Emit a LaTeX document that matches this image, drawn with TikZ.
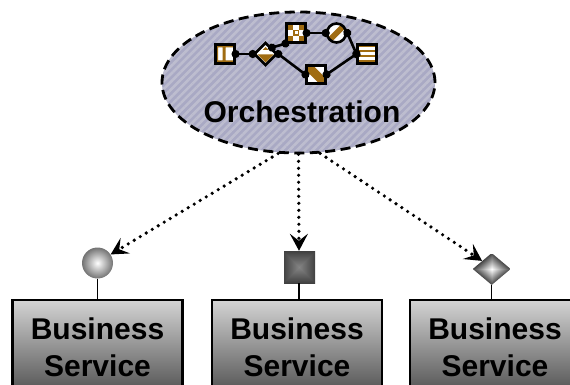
\documentclass[tikz,border=0pt]{standalone}
\usepackage{fontspec}
\setmainfont{Liberation Sans}
\usetikzlibrary{arrows.meta,shapes.geometric,patterns.meta,positioning}

\definecolor{hatchlo}{HTML}{A9A9C4}
\definecolor{hatchhi}{HTML}{BDBDCF}
\definecolor{taskbrown}{HTML}{A06C12}

\pgfdeclarefunctionalshading{squaregrey}{\pgfpoint{-25bp}{-25bp}}{\pgfpoint{25bp}{25bp}}{}{
  abs exch abs 2 copy lt {exch} if pop 25 div 0.27 mul 0.52 exch sub dup dup }
\pgfdeclarefunctionalshading{diamondgrey}{\pgfpoint{-25bp}{-25bp}}{\pgfpoint{25bp}{25bp}}{}{
  abs exch abs add 25 div 0.72 mul 1 exch sub dup 0 lt {pop 0} if dup dup }

\tikzset{
  task/.style={draw=black,line width=2.6pt,fill=white,rectangle,inner sep=0pt,minimum size=18.5pt},
  gate/.style={draw=black,line width=2.6pt,fill=white,diamond,inner sep=0pt,minimum width=23pt,minimum height=23pt},
  event/.style={draw=black,line width=2.6pt,fill=white,circle,inner sep=0pt,minimum size=19pt},
  flow/.style={line width=2.6pt,{Circle[length=8pt]}-{Circle[length=8pt]},shorten <=-4pt,shorten >=-4pt},
  call/.style={line width=3.6pt,line cap=round,dash pattern=on 0pt off 7pt,-{Stealth[length=17pt,width=18pt,inset=7pt]}},
  stem/.style={line width=1.5pt},
  busbox/.style={draw=black,line width=2.6pt,rectangle,top color=black!17,bottom color=black!68,
    minimum width=170pt,minimum height=94pt,align=center,inner sep=0pt,
    font=\bfseries\fontsize{30}{37}\selectfont},
  centred/.style={shift={(path picture bounding box.center)}}
}

\begin{document}
\begin{tikzpicture}[x=1pt,y=-1pt]
    \useasboundingbox (0,0) rectangle (570,385);
    \clip (0,0) rectangle (570,385);

    \node[ellipse,draw=black,line width=2.8pt,dash pattern=on 10pt off 5.5pt,minimum width=273pt,minimum height=141pt,
      inner sep=0pt,preaction={fill=hatchlo},pattern={Lines[angle=45,distance=5.5pt,line width=2.6pt]},pattern color=hatchhi]
      (orch) at (298.5,82.5) {};
    \node[font=\bfseries\fontsize{30}{32}\selectfont] (orchlabel) at (302,111.5) {Orchestration};

    % process inside the ellipse
    \node[task,path picture={\begin{scope}[centred]
        \fill[taskbrown] (-10,-10) rectangle (-7,10) (-2.5,-10) rectangle (0.5,10)
          (-10,-10) rectangle (10,-6.5) (-10,6.5) rectangle (10,10);
      \end{scope}}] (task1) at (225,54) {};
    \node[gate,path picture={\begin{scope}[centred]
        \fill[taskbrown] (-8,0.5) -- (8,0.5) -- (0,8.5) -- cycle (-3,-4) -- (3,-4) -- (0,-7) -- cycle;
      \end{scope}}] (gate1) at (265.5,54) {};
    \node[task,path picture={\begin{scope}[centred]
        \foreach \col in {0,1,2} \foreach \row in {0,1,2} {
          \pgfmathparse{int(mod(\col+\row,2))}
          \ifnum\pgfmathresult=0 \fill[taskbrown] (-9.5+6.33*\col,-9.5+6.33*\row) rectangle ++(6.33,6.33); \fi
        }
        \fill[white] (-1.5,-1.5) rectangle (1.5,1.5);
      \end{scope}}] (task2) at (296,33) {};
    \node[event,path picture={\begin{scope}[centred]
        \fill[taskbrown] (-9,5) -- (5,-9) -- (9,-5) -- (-5,9) -- cycle;
      \end{scope}}] (event1) at (336.5,33) {};
    \node[task,fill=white,path picture={\begin{scope}[centred]
        \foreach \row in {0,...,3} \fill[taskbrown] (-10,-9+5*\row) rectangle (10,-6.5+5*\row);
      \end{scope}}] (task3) at (367,54) {};
    \node[task,path picture={\begin{scope}[centred]
        \fill[taskbrown] (-10,-10) -- (-4,-10) -- (10,4) -- (10,10) -- (4,10) -- (-10,-4) -- cycle;
      \end{scope}}] (task4) at (316,74.5) {};

    \draw[flow] (task1.east) -- (gate1.west);
    \draw[flow] (gate1.north east) -- (task2.south west);
    \draw[flow] (gate1.east) -- (task4.west);
    \draw[flow] (task2.east) -- (event1.west);
    \draw[flow] (event1.east) -- (task3.west);
    \draw[flow] (task4.east) -- (task3.west);

    % services
    \node[circle,shading=radial,inner color=white,outer color=black!55,minimum size=31pt,inner sep=0pt] (port1) at (97.5,263) {};
    \node[rectangle,shading=squaregrey,minimum size=32pt,inner sep=0pt] (port2) at (299,267) {};
    \node[diamond,shading=diamondgrey,minimum width=38pt,minimum height=32pt,inner sep=0pt] (port3) at (491.7,269) {};

    \node[busbox] (box1) at (97.5,347) {Business\\Service};
    \node[busbox] (box2) at (297,347) {Business\\Service};
    \node[busbox] (box3) at (495,347) {Business\\Service};

    \draw[stem] (port1.south) -- (port1.south |- box1.north);
    \draw[stem] (port2.south) -- (port2.south |- box2.north);
    \draw[stem] (port3.south) -- (port3.south |- box3.north);

    \draw[call] (orch.254) -- (port1.33);
    \draw[call] (orch.270) -- (port2.north);
    \draw[call] (orch.287) -- (port3.north west);
\end{tikzpicture}
\end{document}
